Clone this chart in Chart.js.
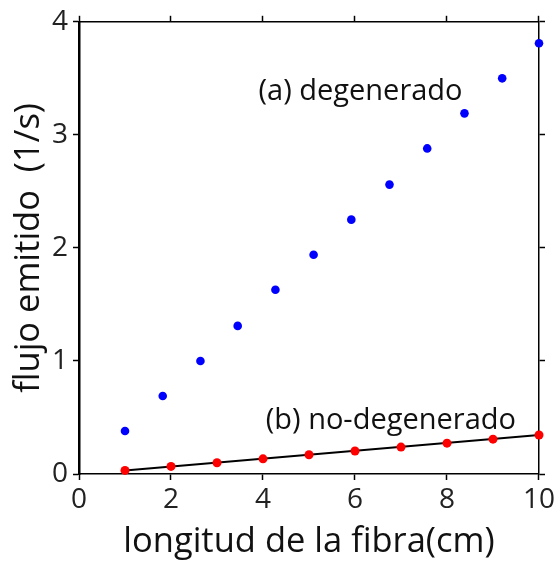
<!DOCTYPE html>
<html><head><meta charset="utf-8">
<script src="https://cdn.jsdelivr.net/npm/chart.js@4"></script>
<style>html,body{margin:0;padding:0;background:#fff}#wrap{width:558px;height:563px}</style>
</head><body><div id="wrap"><canvas id="c" width="558" height="563"></canvas></div>
<script>
const degX = [1.00,1.82,2.64,3.45,4.27,5.10,5.92,6.75,7.57,8.38,9.20,10.00];
const degY = [0.38,0.69,1.00,1.31,1.63,1.94,2.25,2.56,2.88,3.19,3.50,3.81];
const nonX = [1,2,3,4,5,6,7,8,9,10];
const nonY = [0.032,0.067,0.100,0.134,0.170,0.203,0.238,0.273,0.308,0.345];
const fitX = [1,10];
const fitY = [0.032,0.345];
const xTicks = [0,2,4,6,8,10];
const yTicks = [0,1,2,3,4];
const labels = [
  {text:'(a) degenerado', x:6.12, y:3.38},
  {text:'(b) no-degenerado', x:6.78, y:0.467}
];
const FONT = "'Open Sans'";
const toPts = (xs, ys) => xs.map((x,i)=>({x, y: ys[i]}));

const textPlugin = {
  id:'txt',
  afterDatasetsDraw(chart){
    const {ctx, scales} = chart;
    ctx.save();
    ctx.fillStyle = '#111';
    ctx.font = '29px ' + FONT;
    ctx.textAlign = 'center';
    ctx.textBaseline = 'middle';
    labels.forEach(l => ctx.fillText(l.text, scales.x.getPixelForValue(l.x), scales.y.getPixelForValue(l.y)));
    ctx.restore();
  }
};

const axisCommon = {
  grid:{drawOnChartArea:false, color:'#000', tickLength:6, tickWidth:1.5},
  border:{color:'#000', width:1.5}
};

new Chart(document.getElementById('c'), {
  type:'scatter',
  data:{datasets:[
    {label:'degenerado', data:toPts(degX,degY), backgroundColor:'#0000ff', borderColor:'#0000ff', pointRadius:4.3, pointBorderWidth:0, showLine:false, clip:false, order:1},
    {label:'no-degenerado', data:toPts(nonX,nonY), backgroundColor:'#ff0000', borderColor:'#ff0000', pointRadius:4.5, pointBorderWidth:0, showLine:false, clip:false, order:1},
    {label:'ajuste', data:toPts(fitX,fitY), borderColor:'#000', borderWidth:2, pointRadius:0, showLine:true, fill:false, clip:false, order:2}
  ]},
  options:{
    responsive:false, animation:false, devicePixelRatio:1,
    layout:{padding:0},
    plugins:{legend:{display:false}, tooltip:{enabled:false}},
    scales:{
      x:{type:'linear', position:'bottom', min:0, max:10,
        afterBuildTicks: s => { s.ticks = xTicks.map(v=>({value:v})); },
        afterFit: s => { s.height = 89; },
        ticks:{color:'#222', font:{family:FONT, size:28}, padding:3, maxRotation:0},
        title:{display:true, text:'longitud de la fibra(cm)', color:'#111', font:{family:FONT, size:34.5}, padding:{top:0,bottom:0}},
        ...axisCommon},
      x2:{type:'linear', position:'top', min:0, max:10,
        afterBuildTicks: s => { s.ticks = xTicks.map(v=>({value:v})); },
        afterFit: s => { s.height = 13; },
        ticks:{display:false}, ...axisCommon},
      y:{type:'linear', position:'left', min:0, max:4,
        afterBuildTicks: s => { s.ticks = yTicks.map(v=>({value:v})); },
        afterFit: s => { s.width = 79; },
        ticks:{color:'#222', font:{family:FONT, size:28}, padding:5},
        title:{display:true, text:'flujo emitido  (1/s)', color:'#111', font:{family:FONT, size:34.5}, padding:{top:8,bottom:0}},
        ...axisCommon, border:{color:'#000', width:2.5}},
      y2:{type:'linear', position:'right', min:0, max:4,
        afterBuildTicks: s => { s.ticks = yTicks.map(v=>({value:v})); },
        afterFit: s => { s.width = 18; },
        ticks:{display:false}, ...axisCommon}
    }
  },
  plugins:[textPlugin]
});
</script></body></html>
